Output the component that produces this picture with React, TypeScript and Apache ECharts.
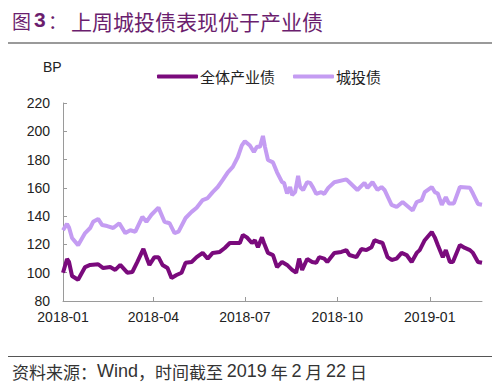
import React, { useEffect, useRef } from "react";
import * as echarts from "echarts";

// 城投债 (light purple)
const cityDates = [
  "2018-01-01","2018-01-05","2018-01-07","2018-01-10","2018-01-16","2018-01-23","2018-01-28","2018-01-31",
  "2018-02-05","2018-02-09","2018-02-14","2018-02-20","2018-02-26","2018-03-04","2018-03-09","2018-03-14",
  "2018-03-21","2018-03-25","2018-03-30","2018-04-06","2018-04-12","2018-04-17","2018-04-22","2018-04-26",
  "2018-05-03","2018-05-09","2018-05-14","2018-05-20","2018-05-25","2018-05-30","2018-06-04","2018-06-09",
  "2018-06-14","2018-06-19","2018-06-24","2018-06-28","2018-07-01","2018-07-06","2018-07-10","2018-07-13",
  "2018-07-16","2018-07-19","2018-07-21","2018-07-24","2018-07-29","2018-08-02","2018-08-07","2018-08-09",
  "2018-08-12","2018-08-15","2018-08-17","2018-08-20","2018-08-23","2018-08-25","2018-08-28","2018-09-01",
  "2018-09-04","2018-09-07","2018-09-10","2018-09-15","2018-09-18","2018-09-22","2018-09-28","2018-10-10",
  "2018-10-13","2018-10-21","2018-10-28","2018-10-31","2018-11-05","2018-11-10","2018-11-14","2018-11-17",
  "2018-11-24","2018-11-29","2018-12-05","2018-12-10","2018-12-15","2018-12-19","2018-12-24","2018-12-27",
  "2019-01-03","2019-01-06","2019-01-09","2019-01-13","2019-01-17","2019-01-20","2019-01-25","2019-01-31",
  "2019-02-10","2019-02-13","2019-02-18","2019-02-22"
];
const cityValues = [
  130,134.5,132,124.5,119.5,128,131.6,136,
  138,133.7,133,131.6,135,128,130,129,
  139.5,136,141,146,136,135,128,129,
  138.7,143,146,151.4,152.8,157,160.6,165.6,
  171,174.8,181.8,190,193,190,185.4,189,
  189,196.7,189,179.7,178,171,164,163.5,
  156,160.6,155,157,168.4,160.6,158.5,164,
  163.5,160,155.7,157,155.7,160,164,166,
  164,158.5,163.5,160,164,158.5,160.6,158.5,
  148,146.5,150,147,144,150,151.4,157,
  160.6,157,156,148,153.5,149,149,160.6,
  160,156,148.6,148
];

// 全体产业债 (dark purple)
const industryDates = [
  "2018-01-01","2018-01-05","2018-01-07","2018-01-10","2018-01-16","2018-01-23","2018-01-28","2018-02-05",
  "2018-02-10","2018-02-17","2018-02-22","2018-02-27","2018-03-06","2018-03-11","2018-03-16","2018-03-22",
  "2018-03-25","2018-03-28","2018-04-02","2018-04-06","2018-04-10","2018-04-15","2018-04-19","2018-04-24",
  "2018-04-29","2018-05-03","2018-05-09","2018-05-14","2018-05-20","2018-05-25","2018-05-30","2018-06-06",
  "2018-06-11","2018-06-16","2018-06-21","2018-06-26","2018-06-29","2018-07-03","2018-07-08","2018-07-11",
  "2018-07-14","2018-07-18","2018-07-20","2018-07-24","2018-07-29","2018-08-02","2018-08-07","2018-08-12",
  "2018-08-17","2018-08-21","2018-08-24","2018-08-27","2018-09-01","2018-09-06","2018-09-10","2018-09-13",
  "2018-09-18","2018-09-21","2018-09-28","2018-10-05","2018-10-10","2018-10-13","2018-10-20","2018-10-25",
  "2018-10-30","2018-11-04","2018-11-07","2018-11-12","2018-11-15","2018-11-20","2018-11-24","2018-11-29",
  "2018-12-04","2018-12-09","2018-12-14","2018-12-19","2018-12-22","2018-12-27","2019-01-03","2019-01-06",
  "2019-01-09","2019-01-14","2019-01-17","2019-01-21","2019-01-24","2019-01-31","2019-02-05","2019-02-10",
  "2019-02-13","2019-02-18","2019-02-22"
];
const industryValues = [
  100,109.7,107.6,97.7,95,104,105.5,106,
  103.3,104,102,105.5,100,100.5,107.6,116.8,
  111,105.5,111,111,105.5,103.3,96.3,98.4,
  100,107,107.6,111,114,110,114,114.7,
  117.5,121,121,121,126.7,125,121,123,
  118,125,121,114,112.5,104,107.6,105.5,
  102,100,110,102,109.7,107.6,107,111,
  110,107.6,114,114.7,116,112.5,111,116.8,
  116,118,123,121.7,121,111,109,110,
  114,112.5,107.6,114,116,123,128.8,125,
  119.6,111,116,107.6,107.6,119.6,117.5,116,
  114,107.6,107
];

const startDate = "2018-01-01";
const endDate = "2019-02-22";
const tickDates = ["2018-01-01", "2018-04-01", "2018-07-01", "2018-10-01", "2019-01-01"];
const yMin = 80;
const yMax = 220;
const yStep = 20;

const seriesNames = ["全体产业债", "城投债"];
const darkColor = "#7A0A7C";
const lightColor = "#C49CF2";

function buildDays(start: string, end: string): string[] {
  const out: string[] = [];
  const s = Date.parse(start + "T00:00:00Z");
  const e = Date.parse(end + "T00:00:00Z");
  for (let t = s; t <= e; t += 86400000) {
    out.push(new Date(t).toISOString().slice(0, 10));
  }
  return out;
}

const LATIN = "'Liberation Sans', Arial, sans-serif";
const CJK = "'Noto Sans CJK SC', sans-serif";

export default function App() {
  const ref = useRef<HTMLDivElement>(null);
  useEffect(() => {
    if (!ref.current) return;
    const chart = echarts.init(ref.current, undefined, { renderer: "svg" });
    const days = buildDays(startDate, endDate);
    const isTick = (_i: number, v: string) => tickDates.indexOf(v) >= 0;
    chart.setOption({
      animation: false,
      backgroundColor: "#fff",
      textStyle: { fontFamily: LATIN },
      grid: { left: 63, right: 18, top: 103, bottom: 89, containLabel: false },
      legend: {
        data: seriesNames,
        left: 152,
        top: 64,
        itemWidth: 41,
        itemHeight: 4,
        itemGap: 18,
        icon: "roundRect",
        textStyle: { fontFamily: CJK, fontSize: 15, color: "#222", padding: [0, 0, 0, -3] },
      },
      xAxis: {
        type: "category",
        data: days,
        boundaryGap: false,
        axisLine: { lineStyle: { color: "#9a9a9a", width: 1 } },
        axisTick: { inside: true, length: 4, interval: isTick, lineStyle: { color: "#9a9a9a" } },
        axisLabel: {
          interval: isTick,
          formatter: (v: string) => v.slice(0, 7),
          fontSize: 14,
          color: "#222",
          margin: 9,
          fontFamily: LATIN,
        },
        splitLine: { show: false },
      },
      yAxis: {
        type: "value",
        min: yMin,
        max: yMax,
        interval: yStep,
        axisLine: { show: true, lineStyle: { color: "#9a9a9a", width: 1 } },
        axisTick: { show: true, inside: true, length: 4, lineStyle: { color: "#9a9a9a" } },
        axisLabel: { fontSize: 14, color: "#222", margin: 13, fontFamily: LATIN },
        splitLine: { show: false },
      },
      series: [
        {
          name: seriesNames[0],
          type: "line",
          data: industryDates.map((d, i) => [d, industryValues[i]]),
          showSymbol: false,
          symbol: "none",
          lineStyle: { color: darkColor, width: 4 },
          itemStyle: { color: darkColor },
          z: 3,
        },
        {
          name: seriesNames[1],
          type: "line",
          data: cityDates.map((d, i) => [d, cityValues[i]]),
          showSymbol: false,
          symbol: "none",
          lineStyle: { color: lightColor, width: 4 },
          itemStyle: { color: lightColor },
          z: 2,
        },
      ],
      graphic: [
        { type: "text", left: 12, top: 11, style: { text: "图", fontFamily: CJK, fontSize: 19, fill: "#6B1E6E" } },
        { type: "text", left: 34, top: 9, style: { text: "3", fontFamily: LATIN, fontSize: 21, fontWeight: "bold", fill: "#6B1E6E" } },
        { type: "text", left: 48, top: 11, style: { text: "：", fontFamily: CJK, fontSize: 19, fill: "#6B1E6E" } },
        { type: "text", left: 71, top: 10, style: { text: "上周城投债表现优于产业债", fontFamily: CJK, fontSize: 21, fill: "#6B1E6E" } },
        { type: "rect", shape: { x: 8, y: 42, width: 492, height: 2 }, style: { fill: "#9a9a9a" } },
        { type: "text", left: 43, top: 60, style: { text: "BP", fontFamily: LATIN, fontSize: 14, fill: "#222" } },
        { type: "rect", shape: { x: 8, y: 356, width: 492, height: 1 }, style: { fill: "#555" } },
        {
          type: "text",
          left: 12,
          top: 362,
          style: {
            text: "{c|资料来源：}{l|Wind}{c|，时间截至 }{l|2019}{c| 年 }{l|2}{c| 月 }{l|22}{c| 日}",
            rich: {
              c: { fontFamily: CJK, fontSize: 17, fill: "#333" },
              l: { fontFamily: LATIN, fontSize: 18, fill: "#333" },
            },
          },
        },
      ],
    });
    return () => chart.dispose();
  }, []);
  return <div ref={ref} style={{ width: 500, height: 390, margin: -8 }} />;
}
